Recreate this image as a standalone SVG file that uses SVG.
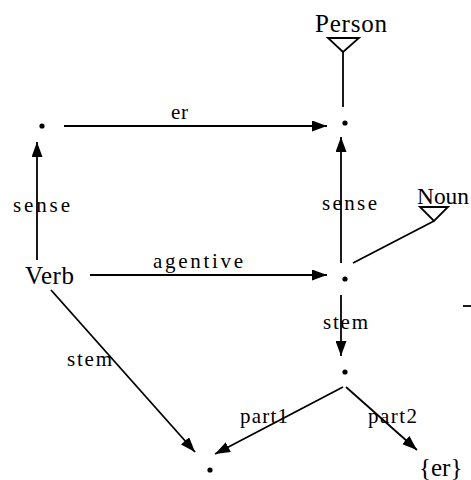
<svg xmlns="http://www.w3.org/2000/svg" width="471" height="480" viewBox="0 0 471 480">
<style>
.big{font-family:"Liberation Serif","Times New Roman",serif;font-size:25px;fill:#000}
.lbl{font-family:"Liberation Serif","Times New Roman",serif;font-size:21px;fill:#000}
.ln{stroke:#000;stroke-width:1.8;fill:none}
.arr{stroke:#000;stroke-width:1.8;fill:none;marker-end:url(#ah)}
.isa{stroke:#000;stroke-width:1.8;fill:#fff}
.dot{fill:#000}
</style>
<defs>
<marker id="ah" viewBox="0 0 15 11" refX="15" refY="5.5" markerWidth="15" markerHeight="11" markerUnits="userSpaceOnUse" orient="auto">
<path d="M0,0 L15,5.5 L0,11 Z" fill="#000"/>
</marker>
</defs>
<rect width="471" height="480" fill="#fff"/>
<g id="connectors">
<line class="arr" x1="64" y1="126" x2="327" y2="126"/>
<text class="lbl" x="171" y="119" textLength="17" lengthAdjust="spacing">er</text>
<line class="arr" x1="37" y1="260" x2="37" y2="142"/>
<text class="lbl" x="13" y="212" textLength="57" lengthAdjust="spacing">sense</text>
<line class="arr" x1="90" y1="275" x2="327" y2="275"/>
<text class="lbl" x="153" y="268" textLength="90" lengthAdjust="spacing">agentive</text>
<line class="arr" x1="341" y1="263" x2="341" y2="137"/>
<text class="lbl" x="322" y="210" textLength="55" lengthAdjust="spacing">sense</text>
<line class="ln" x1="343" y1="52" x2="343" y2="107"/>
<path class="isa" d="M328,38 L359,38 L343,52 Z"/>
<line class="ln" x1="353" y1="263" x2="434" y2="221"/>
<path class="isa" d="M420,207 L448,207 L434,221 Z"/>
<line class="arr" x1="341" y1="295" x2="341" y2="356"/>
<text class="lbl" x="323" y="329" textLength="45" lengthAdjust="spacing">stem</text>
<line class="arr" x1="51" y1="290" x2="195" y2="452"/>
<text class="lbl" x="67" y="366" textLength="45" lengthAdjust="spacing">stem</text>
<line class="arr" x1="343" y1="387" x2="215" y2="454"/>
<text class="lbl" x="240" y="423" textLength="48" lengthAdjust="spacing">part1</text>
<line class="arr" x1="346" y1="387" x2="417" y2="450"/>
<text class="lbl" x="368" y="423" textLength="49" lengthAdjust="spacing">part2</text>
<line class="ln" x1="463" y1="306" x2="471" y2="306"/>
</g>
<g id="person"><text class="big" x="315" y="32" textLength="72" lengthAdjust="spacing">Person</text></g>
<g id="noun"><text class="big" x="417" y="204" style="font-size:23px" textLength="52" lengthAdjust="spacingAndGlyphs">Noun</text></g>
<g id="verb"><text class="big" x="25" y="284" textLength="49" lengthAdjust="spacing">Verb</text></g>
<g id="er-morph"><text class="big" x="419" y="476">{er}</text></g>
<g id="dot-er"><circle class="dot" cx="42" cy="126" r="2.6"/></g>
<g id="dot-person"><circle class="dot" cx="345" cy="123" r="2.6"/></g>
<g id="dot-agentive"><circle class="dot" cx="345" cy="279" r="2.6"/></g>
<g id="dot-stem"><circle class="dot" cx="345" cy="372" r="2.6"/></g>
<g id="dot-part1"><circle class="dot" cx="210" cy="470" r="2.6"/></g>
</svg>
